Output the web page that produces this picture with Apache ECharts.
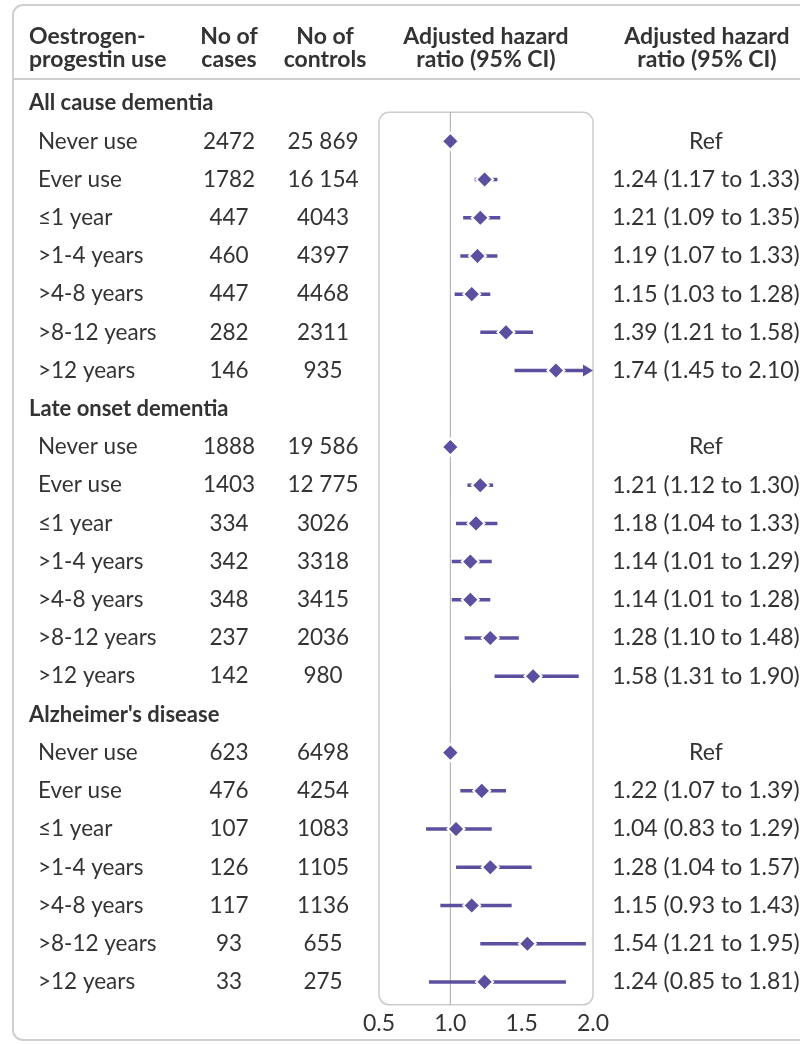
<!DOCTYPE html>
<html>
<head>
<meta charset="utf-8">
<script src="https://cdn.jsdelivr.net/npm/echarts@6/dist/echarts.min.js"></script>
<style>
html,body{margin:0;padding:0;background:#fff;}
#chart{width:800px;height:1044px;}
</style>
</head>
<body>
<div id="chart"></div>
<script>
// ---- data ----
const rowLabels = [
  'All cause dementia','Never use','Ever use','\u22641 year','>1-4 years','>4-8 years','>8-12 years','>12 years',
  'Late onset dementia','Never use','Ever use','\u22641 year','>1-4 years','>4-8 years','>8-12 years','>12 years',
  "Alzheimer's disease",'Never use','Ever use','\u22641 year','>1-4 years','>4-8 years','>8-12 years','>12 years'
];
const cases = [
  null,'2472','1782','447','460','447','282','146',
  null,'1888','1403','334','342','348','237','142',
  null,'623','476','107','126','117','93','33'
];
const controls = [
  null,'25 869','16 154','4043','4397','4468','2311','935',
  null,'19 586','12 775','3026','3318','3415','2036','980',
  null,'6498','4254','1083','1105','1136','655','275'
];
const hazardRatio = [
  null,1.00,1.24,1.21,1.19,1.15,1.39,1.74,
  null,1.00,1.21,1.18,1.14,1.14,1.28,1.58,
  null,1.00,1.22,1.04,1.28,1.15,1.54,1.24
];
const ciLower = [
  null,null,1.17,1.09,1.07,1.03,1.21,1.45,
  null,null,1.12,1.04,1.01,1.01,1.10,1.31,
  null,null,1.07,0.83,1.04,0.93,1.21,0.85
];
const ciUpper = [
  null,null,1.33,1.35,1.33,1.28,1.58,2.10,
  null,null,1.30,1.33,1.29,1.28,1.48,1.90,
  null,null,1.39,1.29,1.57,1.43,1.95,1.81
];
const ciText = [
  null,'Ref','1.24 (1.17 to 1.33)','1.21 (1.09 to 1.35)','1.19 (1.07 to 1.33)','1.15 (1.03 to 1.28)','1.39 (1.21 to 1.58)','1.74 (1.45 to 2.10)',
  null,'Ref','1.21 (1.12 to 1.30)','1.18 (1.04 to 1.33)','1.14 (1.01 to 1.29)','1.14 (1.01 to 1.28)','1.28 (1.10 to 1.48)','1.58 (1.31 to 1.90)',
  null,'Ref','1.22 (1.07 to 1.39)','1.04 (0.83 to 1.29)','1.28 (1.04 to 1.57)','1.15 (0.93 to 1.43)','1.54 (1.21 to 1.95)','1.24 (0.85 to 1.81)'
];
const xTicks = [0.5, 1.0, 1.5, 2.0];
const headerCols = ['Oestrogen-\nprogestin use','No of\ncases','No of\ncontrols','Adjusted hazard\nratio (95% CI)','Adjusted hazard\nratio (95% CI)'];

// ---- style ----
const FONT = 'Lato';
const TXT = '#333333';
const PURPLE = '#5b4f9f';
const FS = 22.5;
const XMIN = xTicks[0], XMAX = xTicks[xTicks.length-1];

const chart = echarts.init(document.getElementById('chart'), null, {renderer:'canvas'});
const rowIdx = rowLabels.map((_, i) => i);

const textData = rowIdx.map(i => [XMIN, i]);
const ciData = rowIdx.filter(i => ciLower[i] != null).map(i => [ciLower[i], ciUpper[i], i]);
const pointData = rowIdx.filter(i => hazardRatio[i] != null).map(i => [hazardRatio[i], i]);

const option = {
  animation: false,
  textStyle: {fontFamily: FONT},
  grid: {left: 379, right: 207, top: 84, bottom: 43},
  xAxis: {
    type: 'value', min: XMIN, max: XMAX, interval: 0.5,
    axisLine: {show: false}, axisTick: {show: false}, splitLine: {show: false},
    axisLabel: {formatter: v => v.toFixed(1), fontFamily: FONT, fontSize: 23, color: TXT, margin: 11}
  },
  yAxis: {
    type: 'category', data: rowIdx.map(String), inverse: true, show: false
  },
  series: [
    {
      type: 'custom', name: 'text', clip: false, silent: true,
      encode: {x: 0, y: 1},
      data: textData,
      renderItem: function (params, api) {
        const i = api.value(1);
        const y = api.coord([XMIN, i])[1];
        const children = [];
        const section = cases[i] == null;
        children.push({type: 'text', style: {
          text: rowLabels[i], x: section ? 29 : 38, y: y,
          fill: TXT, font: (section ? 'bold 22px ' : FS + 'px ') + FONT,
          align: 'left', verticalAlign: 'middle'}});
        if (!section) {
          children.push({type: 'text', style: {text: cases[i], x: 229, y: y, fill: TXT,
            font: FS + 'px ' + FONT, align: 'center', verticalAlign: 'middle'}});
          children.push({type: 'text', style: {text: controls[i], x: 323, y: y, fill: TXT,
            font: FS + 'px ' + FONT, align: 'center', verticalAlign: 'middle'}});
          children.push({type: 'text', style: {text: ciText[i], x: 706, y: y, fill: TXT,
            font: '23px ' + FONT, align: 'center', verticalAlign: 'middle'}});
        }
        return {type: 'group', children: children};
      }
    },
    {
      type: 'custom', name: 'ci', clip: false, silent: true,
      encode: {x: [0, 1], y: 2},
      data: ciData,
      renderItem: function (params, api) {
        const lo = api.value(0), hi = api.value(1), i = api.value(2);
        const p1 = api.coord([lo, i]);
        const clipped = hi > XMAX;
        const p2 = api.coord([Math.min(hi, XMAX), i]);
        const children = [{
          type: 'line',
          shape: {x1: p1[0], y1: p1[1], x2: clipped ? p2[0] - 7 : p2[0], y2: p2[1]},
          style: {stroke: PURPLE, lineWidth: 3.5}
        }];
        if (clipped) {
          children.push({type: 'polygon', shape: {points: [[p2[0], p2[1]], [p2[0]-10, p2[1]-6], [p2[0]-10, p2[1]+6]]},
            style: {fill: PURPLE}});
        }
        return {type: 'group', children: children};
      }
    },
    {
      type: 'scatter', name: 'hr', silent: true,
      data: pointData,
      symbol: 'diamond', symbolSize: 17,
      itemStyle: {color: PURPLE, borderColor: '#fff', borderWidth: 2, opacity: 1},
      z: 5
    }
  ]
};
chart.setOption(option);

// decorations positioned from the axes
const px = v => chart.convertToPixel({xAxisIndex: 0}, v);
const py = r => chart.convertToPixel({yAxisIndex: 0}, String(r));
const xL = px(XMIN), xR = px(XMAX), x1 = px(1.0);
const rowH = py(1) - py(0);
const boxTop = py(1) - rowH * 0.76;
const boxBot = py(rowLabels.length - 1) + rowH * 0.6;

const hdrFont = 'bold 23px ' + FONT;
const hdr = (t, x, align) => ({type: 'text', silent: true,
  style: {text: t, x: x, y: 48, font: hdrFont, fill: TXT, align: align, verticalAlign: 'middle', lineHeight: 23}});
chart.setOption({
  graphic: [
    {type: 'rect', z: -1, silent: true, shape: {x: 13, y: 5, width: 820, height: 1035, r: 10},
      style: {fill: 'none', stroke: '#cfcfcf', lineWidth: 2}},
    {type: 'line', silent: true, shape: {x1: 13, y1: 79, x2: 800, y2: 79},
      style: {stroke: '#cfcfcf', lineWidth: 2}},
    {type: 'rect', z: -1, silent: true, shape: {x: xL, y: boxTop, width: xR - xL, height: boxBot - boxTop, r: 10},
      style: {fill: 'none', stroke: '#cdcdcd', lineWidth: 1.5}},
    {type: 'line', z: 0, silent: true, shape: {x1: x1, y1: boxTop, x2: x1, y2: boxBot},
      style: {stroke: '#a8a8a8', lineWidth: 1}},
    hdr(headerCols[0], 29, 'left'),
    hdr(headerCols[1], 229, 'center'),
    hdr(headerCols[2], 325, 'center'),
    hdr(headerCols[3], 486, 'center'),
    hdr(headerCols[4], 707, 'center')
  ]
});
</script>
</body>
</html>
